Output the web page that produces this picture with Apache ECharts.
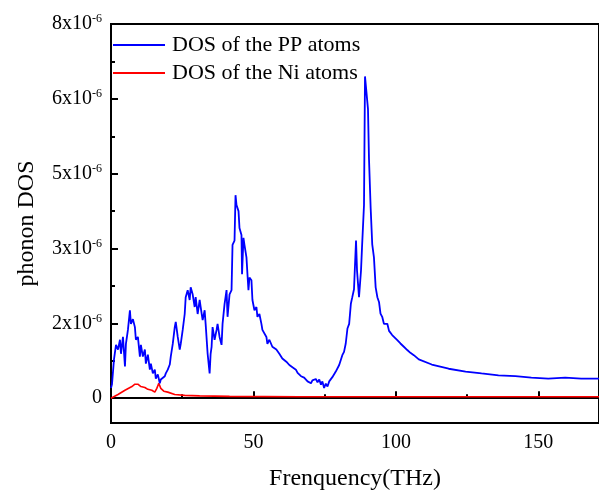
<!DOCTYPE html>
<html><head><meta charset="utf-8">
<script src="https://cdn.jsdelivr.net/npm/echarts@6/dist/echarts.min.js"></script>
<style>html,body{margin:0;padding:0;background:#fff}#c{width:599px;height:496px}</style>
</head><body><div id="c"></div>
<script>
// values in units of 1e-6
const ppFreq = [0,0.35,1.05,1.75,2.45,3.15,3.5,4.2,4.9,5.24,5.94,6.64,6.99,7.69,8.39,8.74,9.44,10.14,10.49,11.19,11.89,12.24,12.94,13.64,13.99,14.69,15.38,15.73,16.43,17.13,17.48,18.18,18.88,19.23,19.93,20.63,20.98,21.68,22.38,22.73,23.43,24.13,24.48,25.17,25.87,26.22,26.92,27.62,27.97,28.67,29.37,29.72,30.42,31.12,31.47,32.17,32.87,33.22,33.92,34.62,34.97,35.31,35.66,36.36,37.06,37.41,38.11,38.81,39.16,39.86,40.56,40.91,41.61,42.31,42.66,43.36,43.71,44.06,44.76,45.1,45.8,46.0,46.5,46.85,47.55,47.9,48.25,48.6,49.3,49.65,50.35,51.05,51.4,52.1,52.8,53.15,54.55,54.9,55.59,56.64,58.04,59.09,60.14,61.54,
  62.6,63.2,63.7,64.3,64.9,65.5,66.1,66.7,67.2,67.8,68.4,69.0,69.6,70.2,70.7,71.33,71.9,72.5,73.1,73.7,74.2,74.8,75.4,76.0,76.6,77.2,77.7,78.3,78.9,79.5,80.1,80.7,81.2,81.8,82.4,83.0,83.6,84.2,84.7,85.3,86.01,86.36,87.06,87.76,88.11,88.81,89.16,89.69,90.21,90.56,91.15,91.7,92.3,92.9,93.5,94.1,94.6,95.2,95.8,96.4,97.0,97.6,98.1,98.7,99.3,100.5,101.6,102.8,104.0,105.1,106.3,108.04,112.59,118.53,124.48,130.07,136.01,141.96,147.55,153.5,159.44,165.03,171.3];
const ppDos = [0.22,0.3,0.83,1.14,1.04,1.25,0.95,1.31,0.68,1.16,1.46,1.88,1.59,1.69,1.52,1.25,1.31,0.89,1.14,0.89,1.04,0.74,0.93,0.61,0.74,0.53,0.61,0.42,0.51,0.32,0.4,0.36,0.47,0.53,0.61,0.72,0.89,1.16,1.52,1.63,1.31,1.04,1.16,1.46,1.8,2.16,2.31,2.1,2.37,2.22,1.95,2.16,1.8,2.1,1.95,1.67,1.88,1.59,0.95,0.53,0.95,1.1,1.52,1.25,1.46,1.59,1.31,1.14,1.59,2.01,2.31,1.74,2.22,2.31,3.28,3.37,4.34,4.13,4.0,3.64,3.49,2.65,3.43,3.28,3.01,2.65,2.31,2.58,2.52,2.1,1.88,1.95,1.74,1.8,1.59,1.46,1.31,1.16,1.25,1.1,1.04,0.95,0.85,0.78,
  0.71,0.75,0.66,0.64,0.61,0.54,0.55,0.47,0.51,0.44,0.48,0.36,0.40,0.32,0.38,0.36,0.41,0.34,0.40,0.29,0.36,0.22,0.31,0.25,0.36,0.32,0.45,0.43,0.57,0.57,0.71,0.75,0.92,0.99,1.17,1.49,1.59,2.02,2.16,2.33,3.37,2.73,2.16,2.73,3.22,4.13,6.88,6.92,6.18,5.12,4.06,3.29,3.01,2.37,2.16,2.05,1.81,1.74,1.59,1.56,1.59,1.44,1.47,1.35,1.33,1.24,1.17,1.10,1.03,0.97,0.92,0.83,0.72,0.63,0.57,0.53,0.49,0.47,0.44,0.42,0.44,0.42,0.42];
const niFreq = [0,2.45,4.9,7.34,8.39,9.44,10.49,11.89,12.94,14.34,15.38,16.08,16.78,17.48,18.53,19.93,22.38,25.87,31.1,41.6,66,101,171.3];
const niDos = [0,0.08,0.17,0.25,0.3,0.3,0.25,0.23,0.19,0.17,0.13,0.21,0.32,0.21,0.15,0.13,0.08,0.06,0.05,0.04,0.03,0.03,0.03];
const xTickValues = [0,50,100,150];
const xMinorValues = [25,75,125];
const yTickValues = [0,1.6,3.2,4.8,6.4,8];
const yTickLabels = ['0','2','3','5','6','8'];
const yMinorValues = [0.8,2.4,4.0,5.6,7.2];
const seriesNames = ['DOS of the PP atoms','DOS of the Ni atoms'];

const FONT = 'Liberation Serif';
const zip = (a,b)=>a.map((v,i)=>[v,b[i]]);
const chart = echarts.init(document.getElementById('c'));
chart.setOption({
  animation:false,
  grid:{left:111,top:24,bottom:69,right:-3,show:true,borderColor:'#000',borderWidth:2},
  legend:{orient:'vertical',left:113,top:34,padding:0,itemWidth:52,itemHeight:2,itemGap:6,icon:'rect',
    textStyle:{fontFamily:FONT,fontSize:22,color:'#000',padding:[0,0,0,2],lineHeight:22},
    data:seriesNames},
  xAxis:[{type:'value',min:0,max:171.3,
    name:'Frenquency(THz)',nameLocation:'middle',nameGap:44,
    nameTextStyle:{fontFamily:FONT,fontSize:24,color:'#000'},
    axisLine:{lineStyle:{color:'#000',width:2}},
    axisTick:{inside:true,length:7,lineStyle:{width:2,color:'#000'},customValues:xTickValues},
    axisLabel:{customValues:xTickValues,fontFamily:FONT,fontSize:20,color:'#000',margin:10},
    splitLine:{show:false}},
   {type:'value',min:0,max:171.3,position:'bottom',
    axisLine:{show:false},axisLabel:{show:false},splitLine:{show:false},
    axisTick:{inside:true,length:4,lineStyle:{width:2,color:'#000'},customValues:xMinorValues}}],
  yAxis:[{type:'value',min:-0.53,max:8,
    name:'phonon DOS',nameLocation:'middle',nameGap:72,
    nameTextStyle:{fontFamily:FONT,fontSize:24,color:'#000'},
    axisLine:{lineStyle:{color:'#000',width:2}},
    axisTick:{inside:true,length:7,lineStyle:{width:2,color:'#000'},customValues:yTickValues},
    axisLabel:{customValues:yTickValues,margin:9,
      formatter:function(v){const i=yTickValues.findIndex(t=>Math.abs(t-v)<1e-6);const l=i>=0?yTickLabels[i]:'';return l==='0'?'{b|0}':'{b|'+l+'x10}{s|-6}';},
      rich:{b:{fontFamily:FONT,fontSize:20,color:'#000'},s:{fontFamily:FONT,fontSize:12,color:'#000',padding:[0,0,10,0]}}},
    splitLine:{show:false}},
   {type:'value',min:-0.53,max:8,position:'left',
    axisLine:{show:false},axisLabel:{show:false},splitLine:{show:false},
    axisTick:{inside:true,length:4,lineStyle:{width:2,color:'#000'},customValues:yMinorValues}}],
  series:[
    {name:seriesNames[0],type:'line',symbol:'none',data:zip(ppFreq,ppDos),lineStyle:{color:'#0000ff',width:1.8},itemStyle:{color:'#0000ff'},z:3},
    {name:seriesNames[1],type:'line',symbol:'none',data:zip(niFreq,niDos),lineStyle:{color:'#ff0000',width:1.6},itemStyle:{color:'#ff0000'},z:2}
  ]
});
</script></body></html>
